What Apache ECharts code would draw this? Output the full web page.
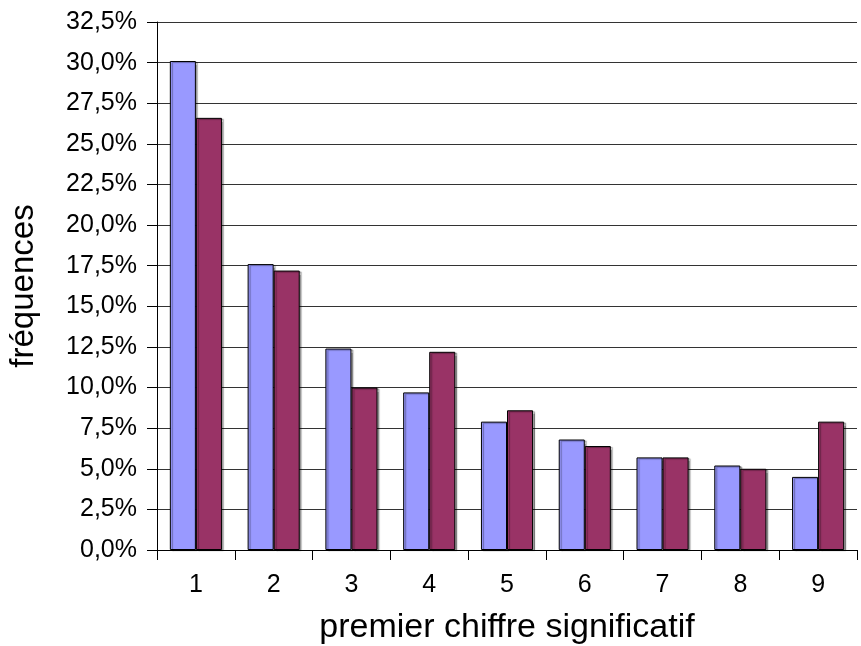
<!DOCTYPE html>
<html><head><meta charset="utf-8">
<script src="https://cdn.jsdelivr.net/npm/echarts@6/dist/echarts.min.js"></script>
<style>html,body{margin:0;padding:0;background:#fff}#c{width:861px;height:646px}</style>
</head><body><div id="c"></div>
<script>
const categories = ['1','2','3','4','5','6','7','8','9'];
const serieBenford = [30.1, 17.6, 12.4, 9.7, 7.9, 6.8, 5.7, 5.2, 4.5];
const serieObservee = [26.6, 17.2, 10.0, 12.2, 8.6, 6.4, 5.7, 5.0, 7.9];
const yTicks = [0, 2.5, 5, 7.5, 10, 12.5, 15, 17.5, 20, 22.5, 25, 27.5, 30, 32.5];

const chart = echarts.init(document.getElementById('c'), null, {renderer: 'canvas'});
const font = 'Liberation Sans, Arial, sans-serif';
const barStyle = (color) => ({
  color: color, borderColor: '#000', borderWidth: 1,
  shadowColor: 'rgba(0,0,0,0.35)', shadowOffsetX: 2, shadowOffsetY: 1, shadowBlur: 1
});
chart.setOption({
  animation: false,
  backgroundColor: '#fff',
  grid: {left: 157, right: 4, top: 22, bottom: 96, containLabel: false, outerBoundsMode: 'none'},
  xAxis: {
    type: 'category', data: categories,
    name: 'premier chiffre significatif', nameLocation: 'middle', nameGap: 61,
    nameTextStyle: {fontFamily: font, fontSize: 34, color: '#000'},
    axisLine: {lineStyle: {color: '#000', width: 1}},
    axisTick: {show: true, length: 10, lineStyle: {color: '#000'}, alignWithLabel: false},
    axisLabel: {fontFamily: font, fontSize: 25, color: '#000', margin: 23},
    splitLine: {show: false}
  },
  yAxis: {
    type: 'value', min: 0, max: 32.5, interval: 2.5,
    name: 'fréquences', nameLocation: 'middle', nameGap: 117, nameRotate: 90,
    nameTextStyle: {fontFamily: font, fontSize: 33, color: '#000'},
    axisLine: {show: true, lineStyle: {color: '#000', width: 1}},
    axisTick: {show: true, length: 10, lineStyle: {color: '#000'}},
    axisLabel: {fontFamily: font, fontSize: 25, color: '#000', margin: 20,
      formatter: v => yTicks.includes(v) ? v.toFixed(1).replace('.', ',') + '%' : ''},
    splitLine: {show: true, lineStyle: {color: '#333', width: 1}}
  },
  series: [
    {name: 'Loi de Benford', type: 'bar', data: serieBenford, barGap: '0%', barCategoryGap: '33%',
     itemStyle: barStyle('#9999FF')},
    {name: 'Observé', type: 'bar', data: serieObservee, barGap: '0%', barCategoryGap: '33%',
     itemStyle: barStyle('#993366')}
  ]
});
</script></body></html>
